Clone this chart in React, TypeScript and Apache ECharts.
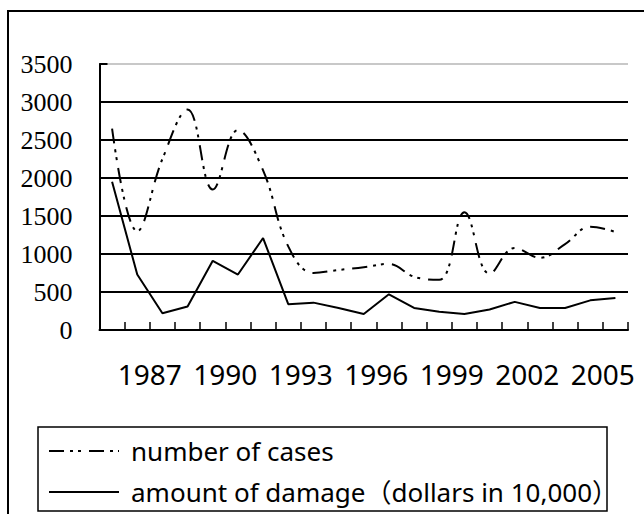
import React, { useEffect, useRef } from "react";
import * as echarts from "echarts";

const years = [1985, 1986, 1987, 1988, 1989, 1990, 1991, 1992, 1993, 1994, 1995, 1996, 1997, 1998, 1999, 2000, 2001, 2002, 2003, 2004, 2005];
const boundaryYears = [1985, 1986, 1987, 1988, 1989, 1990, 1991, 1992, 1993, 1994, 1995, 1996, 1997, 1998, 1999, 2000, 2001, 2002, 2003, 2004, 2005, 2006];
const labelYears = [1987, 1990, 1993, 1996, 1999, 2002, 2005];
const cases = [2650, 1300, 2250, 2900, 1850, 2630, 2100, 1100, 750, 790, 825, 870, 700, 660, 1550, 740, 1080, 950, 1130, 1360, 1290];
const damage = [1950, 730, 220, 310, 910, 730, 1210, 340, 360, 290, 210, 470, 290, 240, 210, 270, 370, 290, 290, 390, 420];
const seriesNames = ["number of cases", "amount of damage（dollars in 10,000）"];

export default function App() {
  const ref = useRef<HTMLDivElement>(null);
  useEffect(() => {
    if (!ref.current) return;
    const chart = echarts.init(ref.current, null, { renderer: "svg" });
    const sans = "'Noto Sans', 'Noto Sans CJK JP', sans-serif";
    chart.setOption({
      animation: false,
      backgroundColor: "#fff",
      grid: { left: 99.5, right: 16, top: 64, bottom: 184, containLabel: false },
      xAxis: [
        {
          type: "category",
          data: years.map(String),
          boundaryGap: true,
          axisLine: { show: true, lineStyle: { color: "#000", width: 2 } },
          axisTick: { show: true, inside: true, length: 8, interval: 0, lineStyle: { color: "#000", width: 1.5 } },
          axisLabel: { show: false },
          splitLine: { show: false },
        },
        {
          type: "category",
          data: boundaryYears.map(String),
          boundaryGap: false,
          position: "bottom",
          axisLine: { show: false },
          axisTick: { show: false },
          splitLine: { show: false },
          axisLabel: {
            show: true,
            interval: (index: number, value: string) => labelYears.includes(Number(value)),
            color: "#000",
            fontFamily: sans,
            fontSize: 28,
            margin: 30,
          },
        },
      ],
      yAxis: {
        type: "value",
        min: 0,
        max: 3500,
        interval: 500,
        axisLine: { show: true, lineStyle: { color: "#000", width: 2 } },
        axisTick: { show: true, inside: true, length: 8, lineStyle: { color: "#000", width: 2 } },
        axisLabel: {
          color: "#000",
          fontFamily: "'Liberation Serif', serif",
          fontSize: 26,
          margin: 27,
          formatter: (v: number) => String(v),
        },
        splitLine: {
          show: true,
          lineStyle: { color: ["#000", "#000", "#000", "#000", "#000", "#000", "#000", "#c8c8c8"], width: 2 },
        },
      },
      legend: {
        show: true,
        orient: "vertical",
        left: 48,
        top: 436,
        padding: 0,
        itemWidth: 70,
        itemHeight: 14,
        itemGap: 11,
        selectedMode: false,
        data: seriesNames,
        itemStyle: { opacity: 0 },
        textStyle: { color: "#000", fontFamily: sans, fontSize: 26, lineHeight: 30, padding: [0, 0, 0, 7] },
      },
      graphic: [
        {
          type: "rect",
          z: -10,
          shape: { x: 8, y: 11, width: 700, height: 600 },
          style: { fill: "none", stroke: "#000", lineWidth: 2 },
          silent: true,
        },
        {
          type: "rect",
          z: -10,
          shape: { x: 38, y: 427, width: 569, height: 84 },
          style: { fill: "none", stroke: "#000", lineWidth: 1.5 },
          silent: true,
        },
      ],
      series: [
        {
          name: seriesNames[0],
          type: "line",
          data: cases,
          smooth: 0.4,
          symbol: "none",
          xAxisIndex: 0,
          lineStyle: { color: "#000", width: 2, type: [15, 6, 3, 5, 3, 8] },
          itemStyle: { color: "#000" },
        },
        {
          name: seriesNames[1],
          type: "line",
          data: damage,
          symbol: "none",
          xAxisIndex: 0,
          lineStyle: { color: "#000", width: 2, type: "solid" },
          itemStyle: { color: "#000" },
        },
      ],
    });
    return () => chart.dispose();
  }, []);
  return <div ref={ref} style={{ position: "absolute", left: 0, top: 0, width: 644, height: 514 }} />;
}
